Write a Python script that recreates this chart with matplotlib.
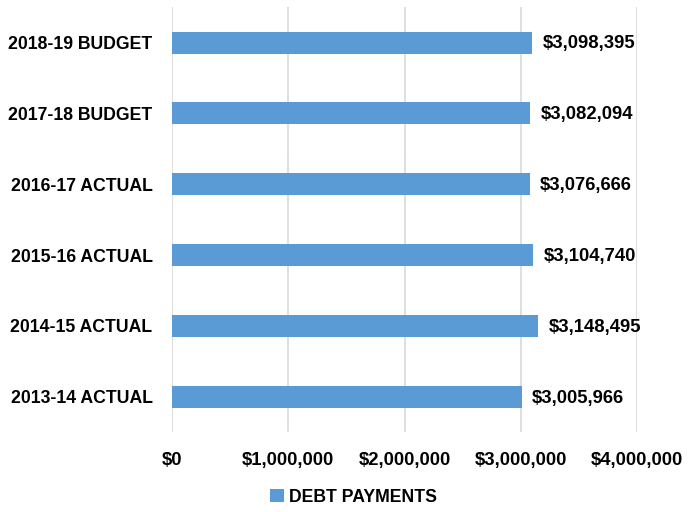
import matplotlib.pyplot as plt

# Debt payments by fiscal year
years = ["2013-14 ACTUAL", "2014-15 ACTUAL", "2015-16 ACTUAL",
         "2016-17 ACTUAL", "2017-18 BUDGET", "2018-19 BUDGET"]
payments = [3005966, 3148495, 3104740, 3076666, 3082094, 3098395]
ticks = [0, 1000000, 2000000, 3000000, 4000000]

plt.rcParams['font.family'] = ['Liberation Sans', 'DejaVu Sans']
plt.rcParams['font.weight'] = 'bold'
fs = 12.7      # category labels and legend
fs_num = 13.3  # dollar amounts

fig = plt.figure(figsize=(6.88, 5.12), dpi=100)
ax = fig.add_axes([0.25, 0.156, 0.676, 0.830])

pos = range(len(years))
ax.barh(pos, payments, height=0.31, color="#5B9BD5", label="DEBT PAYMENTS", zorder=3)
for y, v in zip(pos, payments):
    ax.annotate(f"${v:,}", (v, y), xytext=(7.5, -1), textcoords="offset points",
                va="center", ha="left", fontsize=fs_num, fontweight="bold")

ax.set_xlim(0, 4000000)
ax.set_ylim(-0.5, len(years) - 0.5)
ax.set_xticks(ticks)
ax.set_xticklabels([f"${t:,}" for t in ticks], fontsize=fs_num, fontweight="bold")
ax.set_yticks(list(pos))
ax.set_yticklabels(years, fontsize=fs, fontweight="bold")
ax.tick_params(length=0)
ax.tick_params(axis="y", pad=14)
ax.tick_params(axis="x", pad=14)
ax.grid(axis="x", color="#D9D9D9", linewidth=1.2, zorder=0)
for s in ax.spines.values():
    s.set_visible(False)

fig.legend(loc="center", bbox_to_anchor=(0.514, 0.029), frameon=False,
           prop={"size": fs, "weight": "bold"}, handlelength=0.75,
           handleheight=0.75, handletextpad=0.3)

fig.savefig("out.png")
